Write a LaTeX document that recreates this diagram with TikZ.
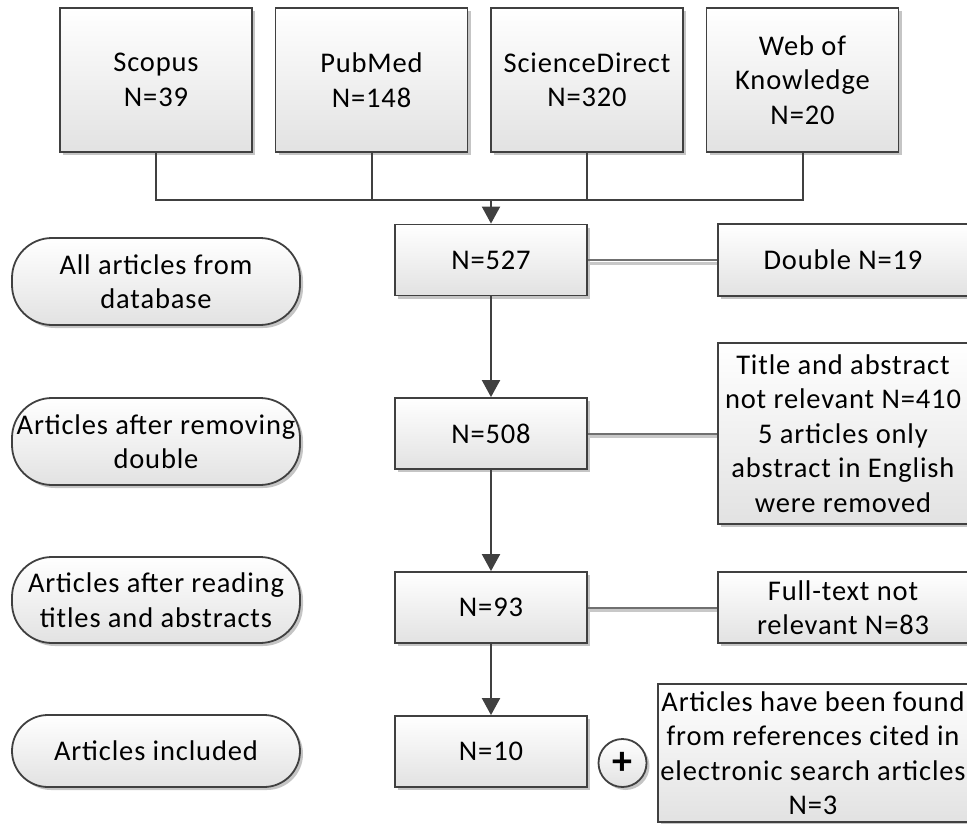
\documentclass[tikz,border=0pt]{standalone}
\usepackage{fontspec}
\setmainfont{Carlito}[LetterSpace=3]
\usetikzlibrary{arrows.meta,shadows}
\definecolor{bordc}{HTML}{404040}
\definecolor{botc}{HTML}{E2E2E2}
\definecolor{sidec}{HTML}{707070}
\definecolor{sidesh}{HTML}{C8C8C8}
\begin{document}
\begin{tikzpicture}[x=1pt,y=-1pt,
  every node/.style={font=\fontsize{28.5}{34.5}\selectfont, align=center, inner sep=0pt},
  box/.style={rectangle, draw=bordc, line width=1.8pt, top color=white, bottom color=botc,
    drop shadow={shadow xshift=3pt, shadow yshift=-3pt, fill=black!45, opacity=0.5}},
  topbox/.style={box, minimum width=192pt, minimum height=144pt},
  mbox/.style={box, minimum width=192pt, minimum height=71pt},
  sbox/.style={box, minimum width=250pt},
  pill/.style={box, rounded corners=40pt, minimum width=288pt},
  conn/.style={draw=bordc, line width=2pt},
  arr/.style={conn, -{Triangle[width=18pt,length=17pt]}, fill=bordc},
  side/.style={draw=sidec, line width=2pt},
  sideshadow/.style={draw=sidesh, line width=3pt}
]
\useasboundingbox (0,0) rectangle (967,824);

% database boxes
\node[topbox] (scopus) at (156,80) {Scopus\\N=39};
\node[topbox] (pubmed) at (371.5,80) {PubMed\\N=148};
\node[topbox] (sd) at (587,80) {ScienceDirect\\N=320};
\node[topbox] (wok) at (802.5,80) {Web of\\Knowledge\\N=20};

% main column
\node[mbox] (n527) at (491,260) {N=527};
\node[mbox] (n508) at (491,433.5) {N=508};
\node[mbox] (n93) at (491,607.5) {N=93};
\node[mbox] (n10) at (491,751.5) {N=10};

% side boxes
\node[sbox, minimum height=72pt] (double) at (843,260) {Double N=19};
\node[sbox, minimum height=181pt] (title) at (843,433.5) {Title and abstract\\not relevant N=410\\5 articles only\\abstract in English\\were removed};
\node[sbox, minimum height=71pt] (fulltext) at (843,607.5) {Full-text not\\relevant N=83};
\node[box, minimum width=310pt, minimum height=138pt] (found) at (813,753) {Articles have been found\\from references cited in\\electronic search articles\\N=3};
\node[box, circle, minimum size=48pt, font=\fontsize{40}{40}\selectfont\bfseries] (plus) at (622.5,763) {+};

% stage labels
\node[pill, minimum height=87pt] (p1) at (156,281.5) {All articles from\\database};
\node[pill, minimum height=87pt] (p2) at (156,441.5) {Articles after removing\\double};
\node[pill, minimum height=86pt] (p3) at (156,600) {Articles after reading\\titles and abstracts};
\node[pill, minimum height=72pt, rounded corners=36pt] (p4) at (156,751) {Articles included};

% merge connectors
\coordinate (mrg) at (491,200);
\draw[conn] (scopus.south) |- (mrg);
\draw[conn] (pubmed.south) |- (mrg);
\draw[conn] (sd.south) |- (mrg);
\draw[conn] (wok.south) |- (mrg);
\draw[arr] (mrg) -- (n527.north);

% main flow
\draw[arr] (n527.south) -- (n508.north);
\draw[arr] (n508.south) -- (n93.north);
\draw[arr] (n93.south) -- (n10.north);

% side connectors
\draw[sideshadow] ([yshift=-3pt]n527.east) -- ([yshift=-3pt]double.west);
\draw[side] (n527.east) -- (double.west);
\draw[sideshadow] ([yshift=-3pt]n508.east) -- ([yshift=-3pt]title.west);
\draw[side] (n508.east) -- (title.west);
\draw[sideshadow] ([yshift=-3pt]n93.east) -- ([yshift=-3pt]fulltext.west);
\draw[side] (n93.east) -- (fulltext.west);
\end{tikzpicture}
\end{document}
